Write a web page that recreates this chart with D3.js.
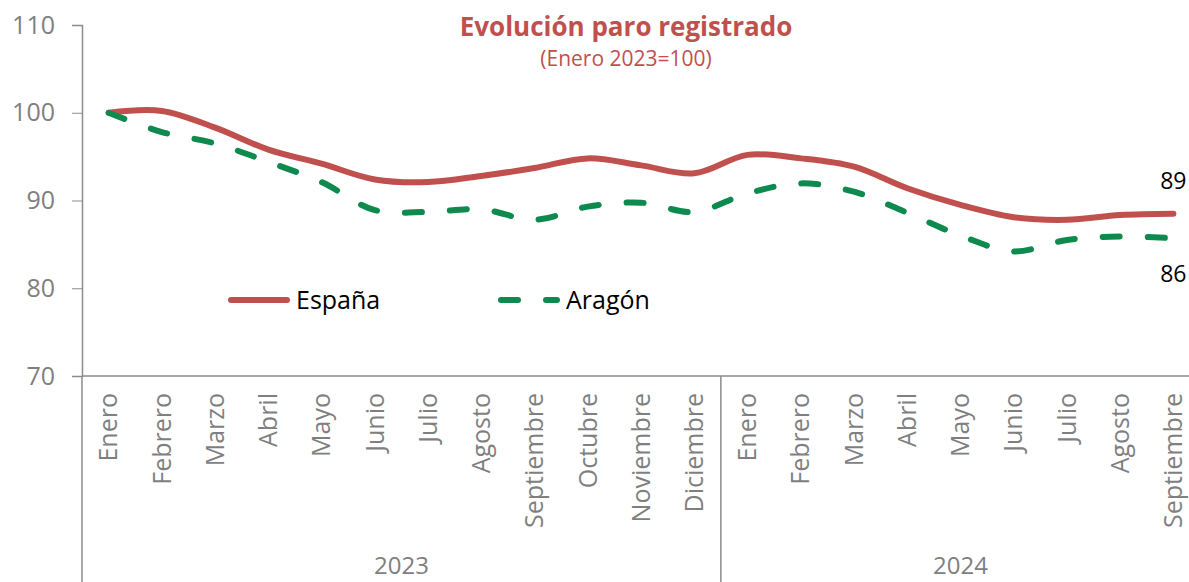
<!DOCTYPE html>
<html>
<head>
<meta charset="utf-8">
<script src="https://cdn.jsdelivr.net/npm/d3@7"></script>
<style>
body { margin: 0; background: #fff; }
svg, svg text { font-family: "Open Sans", sans-serif; }
.axis path, .axis line { stroke: #8c8c8c; }
.axis text { fill: #7f7f7f; }
</style>
</head>
<body>
<script>
var months = ["Enero", "Febrero", "Marzo", "Abril", "Mayo", "Junio", "Julio", "Agosto", "Septiembre", "Octubre", "Noviembre", "Diciembre",
	"Enero", "Febrero", "Marzo", "Abril", "Mayo", "Junio", "Julio", "Agosto", "Septiembre"];
var years = ["2023", "2024"];
var monthsPerYear = [12, 9];
var espana = [100, 100.2, 98.3, 95.8, 94.2, 92.4, 92.1, 92.8, 93.7, 94.8, 94.0, 93.1, 95.2, 94.8, 93.85, 91.4, 89.5, 88.1, 87.8, 88.35, 88.5];
var aragon = [100, 97.8, 96.5, 94.4, 92.1, 88.9, 88.7, 89.0, 87.8, 89.3, 89.75, 88.7, 90.8, 91.95, 91.0, 88.6, 86.0, 84.2, 85.5, 85.9, 85.7];
var yTicks = [70, 80, 90, 100, 110];

var width = 1189, height = 582;
var plotLeft = 82, plotTop = 25, plotBottom = 376, plotRight = 1200;

var svg = d3.select("body").append("svg")
	.attr("width", width)
	.attr("height", height);

var x = d3.scaleBand()
	.domain(d3.range(months.length))
	.range([plotLeft, plotRight]);
var y = d3.scaleLinear()
	.domain([70, 110])
	.range([plotBottom, plotTop]);

var red = "#c0504d", green = "#0f8a4e";

// Y AXIS
svg.append("g")
	.attr("class", "axis")
	.attr("transform", "translate(" + plotLeft + ",0)")
	.call(d3.axisLeft(y).tickValues(yTicks).tickSize(10).tickSizeOuter(10).tickPadding(17))
	.call(function(g) { g.select(".domain").attr("stroke-width", 1.5); })
	.selectAll("text")
	.style("font-size", "25px");

// X AXIS (months)
var xAxis = svg.append("g")
	.attr("class", "axis")
	.attr("transform", "translate(0," + plotBottom + ")")
	.call(d3.axisBottom(x).tickSize(0).tickFormat(function(i) { return months[i]; }));
xAxis.select(".domain").attr("d", "M" + plotLeft + ",0H" + width).attr("stroke-width", 1.5);
xAxis.selectAll("text")
	.style("font-size", "25px")
	.style("text-anchor", "end")
	.attr("transform", "rotate(-90)")
	.attr("x", -17)
	.attr("y", 0)
	.attr("dy", ".35em");

// year separators and labels
var start = 0;
years.forEach(function(yr, k) {
	var x0 = x(start), x1 = x(start + monthsPerYear[k] - 1) + x.bandwidth();
	svg.append("line")
		.attr("x1", x0).attr("x2", x0)
		.attr("y1", plotBottom).attr("y2", height)
		.attr("stroke", "#8c8c8c").attr("stroke-width", 1.5);
	svg.append("text")
		.attr("x", (x0 + x1) / 2)
		.attr("y", 574)
		.attr("text-anchor", "middle")
		.style("font-size", "24px")
		.style("fill", "#7f7f7f")
		.text(yr);
	start += monthsPerYear[k];
});

// LINES
var line = d3.line()
	.x(function(d, i) { return x(i) + x.bandwidth() / 2; })
	.y(function(d) { return y(d); })
	.curve(d3.curveCatmullRom.alpha(0.5));

svg.append("path")
	.datum(espana)
	.attr("d", line)
	.attr("fill", "none")
	.attr("stroke", red)
	.attr("stroke-width", 6)
	.attr("stroke-linecap", "round");

svg.append("path")
	.datum(aragon)
	.attr("d", line)
	.attr("fill", "none")
	.attr("stroke", green)
	.attr("stroke-width", 6)
	.attr("stroke-linecap", "round")
	.attr("stroke-dasharray", "17,28");

// end labels
var last = months.length - 1;
svg.append("text")
	.attr("x", x(last) + x.bandwidth() / 2)
	.attr("y", y(espana[last]) - 25)
	.attr("text-anchor", "middle")
	.style("font-size", "23px")
	.text(Math.round(espana[last]));
svg.append("text")
	.attr("x", x(last) + x.bandwidth() / 2)
	.attr("y", y(aragon[last]) + 44)
	.attr("text-anchor", "middle")
	.style("font-size", "23px")
	.text(Math.round(aragon[last]));

// LEGEND
var legend = [["España", red, null, 228], ["Aragón", green, "17,28", 498]];
legend.forEach(function(l) {
	svg.append("line")
		.attr("x1", l[3] + 3).attr("x2", l[3] + 59)
		.attr("y1", 300).attr("y2", 300)
		.attr("stroke", l[1])
		.attr("stroke-width", 6)
		.attr("stroke-linecap", "round")
		.attr("stroke-dasharray", l[2]);
	svg.append("text")
		.attr("x", l[3] + 68)
		.attr("y", 309)
		.style("font-size", "25px")
		.text(l[0]);
});

// TITLE
svg.append("text")
	.attr("x", 626)
	.attr("y", 36)
	.attr("text-anchor", "middle")
	.style("font-size", "26px")
	.style("font-weight", "bold")
	.style("fill", red)
	.text("Evolución paro registrado");
svg.append("text")
	.attr("x", 626)
	.attr("y", 66)
	.attr("text-anchor", "middle")
	.style("font-size", "21px")
	.style("fill", red)
	.text("(Enero 2023=100)");
</script>
</body>
</html>
